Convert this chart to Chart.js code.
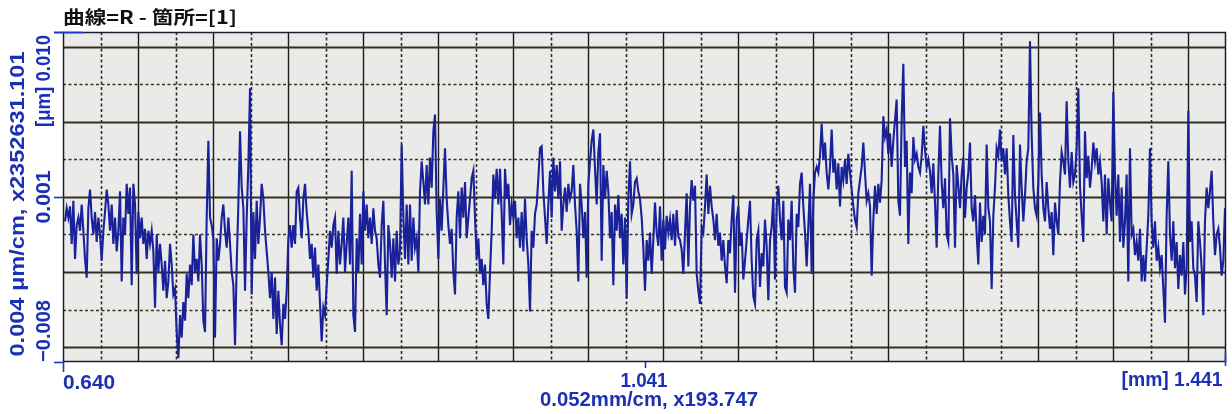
<!DOCTYPE html>
<html><head><meta charset="utf-8">
<script src="https://cdn.jsdelivr.net/npm/chart.js@4.4.1/dist/chart.umd.min.js"></script>
<style>html,body{margin:0;padding:0;background:#fff;overflow:hidden}canvas{display:block}</style>
</head><body>
<canvas id="c" width="1232" height="414"></canvas>
<script>
// ---- texts and axis values ----
const titleText = '曲線=R - 箇所=[1]';
const xMin = 0.640, xMid = 1.041, xMax = 1.441;
const xTickLabels = ['0.640', '1.041', '[mm] 1.441'];
const xScaleText = '0.052mm/cm, x193.747';
const yMin = -0.0078, yMid = 0.001, yMax = 0.0098;
const yTickLabels = ['\u22120.008', '0.001', '[\u03bcm] 0.010'];
const yScaleText = '0.004 \u03bcm/cm, x2352631.101';
const gridStepY = 0.002;           // μm per half-cm grid division
const gridDivX = 31;               // half-cm divisions across the trace
// sample positions (mm) of the first and last reading
const sampleStart = 0.6414, sampleEnd = 1.4403;

// ---- roughness profile R (μm) ----
const profile1 = [
-0.0003,0.0004,-0.0001,0.0005,-0.0015,0.0008,-0.0023,-0.0005,-0.0001,-0.0008,
0.0006,-0.0008,-0.0023,-0.0033,0.0004,0.0014,-0.0001,-0.0010,0.0002,-0.0014,
-0.0001,-0.0010,-0.0024,-0.0008,0.0002,0.0014,0.0006,-0.0008,0.0006,-0.0015,
-0.0001,-0.0019,-0.0008,0.0013,-0.0035,-0.0001,-0.0010,0.0017,0.0001,0.0015,
-0.0037,0.0017,0.0006,-0.0031,0.0002,-0.0012,-0.0001,-0.0015,-0.0007,-0.0023,
-0.0008,-0.0015,-0.0008,-0.0019,-0.0049,-0.0010,-0.0030,-0.0015,-0.0026,-0.0040,
-0.0024,-0.0044,-0.0035,-0.0015,-0.0026,-0.0042,-0.0039,-0.0062,-0.0076,-0.0053,
-0.0065,-0.0046,-0.0056,-0.0031,-0.0044,-0.0026,-0.0037,-0.0010,-0.0030,-0.0023,
-0.0035,-0.0010,-0.0026,-0.0056,-0.0062,-0.0001,0.0040,-0.0001,-0.0005,-0.0012,
-0.0065,-0.0012,-0.0024,-0.0015,-0.0001,0.0006,-0.0008,-0.0017,-0.0001,-0.0015,
-0.0030,-0.0037,-0.0069,-0.0026,0.0006,0.0045,0.0015,0.0004,-0.0040,-0.0001,
0.0027,0.0068,-0.0042,0.0002,-0.0023,0.0008,-0.0015,-0.0001,0.0017,0.0009,
-0.0008,-0.0019,-0.0030,-0.0044,-0.0030,-0.0055,-0.0033,-0.0063,-0.0040,-0.0058,
-0.0069,-0.0047,-0.0055,-0.0040,-0.0012,-0.0005,-0.0017,-0.0005,-0.0015,0.0013,
0.0015,-0.0001,-0.0012,0.0009,0.0017,0.0002,-0.0008,-0.0023,-0.0015,-0.0033,
-0.0017,-0.0040,-0.0026,-0.0047,-0.0067,-0.0049,-0.0053,-0.0037,-0.0023,-0.0008,
-0.0017,-0.0005,-0.0001,-0.0031,-0.0008,-0.0026,-0.0015,-0.0001,-0.0030,-0.0015,
-0.0001,-0.0026,0.0024,-0.0053
];
const profile2 = [
-0.0062,-0.0012,-0.0030,0.0001,-0.0026,0.0013,-0.0008,0.0006,-0.0012,-0.0001,
-0.0015,0.0004,-0.0008,-0.0012,-0.0026,-0.0033,-0.0005,0.0008,-0.0026,-0.0053,
-0.0005,-0.0015,-0.0033,-0.0012,-0.0035,-0.0008,-0.0026,-0.0019,0.0038,-0.0001,
-0.0023,0.0006,-0.0026,0.0006,-0.0024,-0.0001,-0.0017,-0.0012,-0.0030,0.0013,
0.0029,0.0018,0.0006,0.0027,0.0006,0.0031,0.0015,0.0045,0.0054,0.0002,
-0.0023,0.0009,-0.0008,0.0015,0.0036,0.0009,-0.0005,-0.0015,-0.0007,-0.0030,
-0.0042,-0.0001,0.0013,-0.0012,0.0015,-0.0001,0.0018,-0.0012,-0.0001,0.0009,
0.0020,0.0024,-0.0001,-0.0023,-0.0012,-0.0031,-0.0023,-0.0037,-0.0026,-0.0047,
-0.0055,-0.0030,-0.0008,0.0022,0.0009,0.0025,0.0006,0.0025,0.0001,-0.0026,
0.0025,0.0009,0.0017,-0.0005,0.0006,-0.0001,0.0008,-0.0012,-0.0001,-0.0017,
0.0002,-0.0019,0.0009,-0.0012,-0.0026,-0.0051,-0.0008,-0.0017,0.0001,0.0006,
0.0020,0.0036,0.0037,0.0013,-0.0001,-0.0015,0.0006,0.0024,-0.0001,0.0031,
0.0013,0.0027,0.0009,0.0029,-0.0008,0.0006,0.0015,0.0002,0.0017,0.0009,
0.0013,0.0027,0.0006,-0.0008,-0.0035,0.0017,0.0006,-0.0012,0.0002,-0.0033,
0.0017,0.0029,0.0040,0.0046,0.0025,0.0006,0.0034,0.0044,-0.0024,0.0027,
0.0009,0.0024,0.0013,-0.0012,0.0002,-0.0037,0.0006,-0.0008,0.0011,-0.0012,
0.0001,-0.0026,-0.0001,-0.0044,0.0009,0.0029,0.0001,0.0006,0.0018,0.0020,
0.0013,0.0009,-0.0001,-0.0017
];
const profile3 = [
-0.0040,-0.0013,-0.0024,-0.0009,-0.0031,-0.0013,0.0007,-0.0009,-0.0016,0.0005,
-0.0024,-0.0002,-0.0018,0.0000,-0.0009,-0.0002,-0.0013,0.0001,-0.0016,0.0003,
-0.0011,-0.0013,-0.0018,-0.0031,-0.0009,0.0012,-0.0027,0.0005,0.0019,0.0008,
0.0016,-0.0031,-0.0040,-0.0047,-0.0006,-0.0009,0.0005,0.0022,0.0001,0.0016,
0.0005,-0.0002,-0.0013,0.0001,-0.0016,-0.0009,-0.0024,-0.0013,-0.0027,-0.0036,
-0.0013,-0.0020,-0.0002,0.0011,-0.0041,-0.0002,0.0005,-0.0016,-0.0009,-0.0034,
-0.0024,-0.0013,-0.0002,0.0008,-0.0024,-0.0043,-0.0047,-0.0013,-0.0008,-0.0038,
-0.0020,-0.0027,-0.0002,-0.0016,-0.0045,-0.0013,-0.0006,0.0010,-0.0034,0.0005,
0.0016,-0.0002,-0.0013,0.0008,-0.0038,-0.0041,-0.0002,-0.0013,0.0008,-0.0027,
-0.0041,0.0001,-0.0006,0.0017,0.0023,0.0005,-0.0009,-0.0027,-0.0006,0.0017,
-0.0031,0.0008,0.0023,0.0026,0.0023,0.0032,0.0049,0.0030,0.0039,0.0023,
0.0014,0.0026,0.0046,0.0023,0.0030,0.0014,0.0028,0.0005,0.0026,0.0019,
0.0030,0.0017,0.0033,0.0023,0.0014,0.0005,-0.0002,-0.0006,0.0012,0.0019,
0.0026,0.0039,0.0023,0.0008,0.0012,0.0005,-0.0032,-0.0002,0.0016,0.0001,
0.0017,0.0007,0.0019,0.0053,0.0042,0.0046,0.0033,0.0044,0.0026,0.0040,
0.0051,0.0062,0.0008,0.0000,0.0051,0.0081,0.0026,0.0040,-0.0015,0.0023,
0.0012,0.0042,0.0030,0.0033,0.0026,0.0023,0.0032,0.0048,0.0035,0.0026,
0.0030,0.0024,0.0012,0.0028
];
const profile4 = [
0.0007,-0.0017,0.0022,0.0048,0.0018,0.0004,0.0020,-0.0010,-0.0014,0.0052,
0.0032,0.0022,-0.0017,0.0027,0.0016,0.0004,0.0022,0.0031,-0.0001,0.0015,
0.0023,0.0039,0.0004,-0.0003,0.0011,-0.0010,-0.0026,0.0007,-0.0014,0.0000,
-0.0010,0.0038,0.0004,-0.0003,-0.0039,0.0000,0.0015,0.0036,0.0032,0.0046,
0.0029,0.0036,0.0022,0.0036,0.0011,-0.0003,-0.0014,0.0043,0.0011,-0.0003,
-0.0017,0.0038,0.0015,-0.0003,0.0011,0.0029,0.0036,0.0093,0.0043,0.0015,
0.0004,0.0000,0.0018,0.0055,0.0022,0.0004,-0.0003,0.0018,0.0004,-0.0007,
0.0002,-0.0021,0.0007,-0.0003,-0.0010,0.0018,0.0034,0.0029,0.0022,0.0061,
0.0029,0.0015,0.0034,0.0018,0.0022,0.0036,0.0068,0.0016,0.0000,-0.0014,
0.0045,0.0020,0.0032,0.0015,0.0025,0.0039,0.0029,0.0036,0.0022,0.0029,
0.0018,-0.0003,0.0022,-0.0010,0.0020,0.0007,-0.0003,0.0066,0.0022,0.0000,
0.0022,-0.0014,0.0015,-0.0017,-0.0003,0.0022,-0.0035,0.0036,-0.0010,-0.0007,
-0.0021,-0.0014,-0.0024,-0.0007,-0.0035,-0.0021,-0.0035,-0.0017,0.0000,0.0036,
-0.0003,-0.0017,-0.0003,-0.0024,-0.0017,-0.0028,-0.0021,-0.0039,-0.0057,0.0000,
0.0029,-0.0010,-0.0024,-0.0003,-0.0028,-0.0014,-0.0039,-0.0021,-0.0032,-0.0014,
-0.0042,-0.0028,0.0056,-0.0014,-0.0003,-0.0028,-0.0032,-0.0046,-0.0003,-0.0014,
-0.0028,-0.0053,-0.0003,0.0015,0.0004,0.0013,0.0024,-0.0003,-0.0021,-0.0010,
-0.0007,-0.0017,-0.0032,-0.0024,0.0004
];

const profile = profile1.concat(profile2, profile3, profile4);
const nPts = profile.length;
const points = profile.map((v, i) => ({ x: sampleStart + (sampleEnd - sampleStart) * i / (nPts - 1), y: v }));

// ---- style ----
const BLUE_TEXT = '#1c30b6';
const BLUE_TICK = '#2036c4';
const TRACE = '#1a2299';
const BLUE_FONT = 'bold 20px "Liberation Sans", Arial, sans-serif';

function fitText(ctx, text, x, y, width, opt) {
  ctx.save();
  ctx.translate(x, y);
  if (opt.rotate) ctx.rotate(-Math.PI / 2);
  ctx.font = opt.font;
  ctx.fillStyle = opt.color;
  ctx.textAlign = opt.align || 'left';
  ctx.textBaseline = opt.baseline || 'alphabetic';
  const w = ctx.measureText(text).width;
  ctx.scale(width / w, 1);
  ctx.fillText(text, 0, 0);
  ctx.restore();
}

const paperPlugin = {
  id: 'paper',
  beforeDatasetsDraw(chart) {
    const { ctx, chartArea: a, scales: { x, y } } = chart;
    ctx.save();
    ctx.fillStyle = '#eaeae9';
    ctx.fillRect(a.left, a.top, a.right - a.left, a.bottom - a.top);
    // vertical grid
    const stepX = (xMax - xMin) / gridDivX;
    for (let k = 1; k < gridDivX; k++) {
      const px = Math.round(x.getPixelForValue(xMin + k * stepX)) + 0.5;
      ctx.beginPath();
      if (k % 2 === 0) { ctx.setLineDash([]); ctx.strokeStyle = '#1c1c1c'; ctx.lineWidth = 1.4; }
      else { ctx.setLineDash([3, 2.5]); ctx.strokeStyle = '#2a2a2a'; ctx.lineWidth = 1.6; }
      ctx.moveTo(px, a.top); ctx.lineTo(px, a.bottom); ctx.stroke();
    }
    // horizontal grid
    for (let k = -4; k <= 4; k++) {
      const py = Math.round(y.getPixelForValue(yMid + k * gridStepY)) + 0.5;
      ctx.beginPath();
      if (k % 2 === 0) { ctx.setLineDash([]); ctx.strokeStyle = '#352f1f'; ctx.lineWidth = 1.8; }
      else { ctx.setLineDash([3, 2.5]); ctx.strokeStyle = '#3a3322'; ctx.lineWidth = 1.7; }
      ctx.moveTo(a.left, py); ctx.lineTo(a.right, py); ctx.stroke();
    }
    ctx.restore();
  },
  afterDatasetsDraw(chart) {
    const { ctx, chartArea: a, scales: { x, y } } = chart;
    ctx.save();
    ctx.setLineDash([]);
    // frame
    ctx.strokeStyle = '#1d1d2c';
    ctx.lineWidth = 1.5;
    ctx.strokeRect(a.left + 0.5, a.top + 0.5, a.right - a.left - 1, a.bottom - a.top - 1);
    // blue axis ticks
    ctx.strokeStyle = BLUE_TICK;
    ctx.lineWidth = 1.6;
    const yTicks = [yMax, yMid, yMin];
    yTicks.forEach(v => {
      const py = Math.round(y.getPixelForValue(v)) + 0.5;
      ctx.beginPath(); ctx.moveTo(a.left - 9, py); ctx.lineTo(a.left + 1, py); ctx.stroke();
    });
    const xl = Math.round(x.getPixelForValue(xMin)) + 0.5;
    const xm = Math.round(x.getPixelForValue(xMid)) + 0.5;
    const xr = Math.round(x.getPixelForValue(xMax)) - 0.5;
    ctx.beginPath(); ctx.moveTo(xl, a.bottom); ctx.lineTo(xl, a.bottom + 10); ctx.stroke();
    ctx.beginPath(); ctx.moveTo(xm, a.bottom); ctx.lineTo(xm, a.bottom + 6); ctx.stroke();
    ctx.beginPath(); ctx.moveTo(xr, a.bottom - 9); ctx.lineTo(xr, a.bottom + 4); ctx.stroke();
    ctx.beginPath(); ctx.moveTo(a.left - 9, a.top + 0.5); ctx.lineTo(a.left + 20, a.top + 0.5); ctx.stroke();
    ctx.restore();

    // title
    fitText(ctx, titleText, a.left, 24, 174, { font: 'bold 18px "Noto Sans CJK JP", sans-serif', color: '#111111' });
    // x labels
    const bOpt = { font: BLUE_FONT, color: BLUE_TEXT };
    fitText(ctx, xTickLabels[0], xl - 0.5, 389, 52, Object.assign({ align: 'left' }, bOpt));
    fitText(ctx, xTickLabels[1], xm - 1.5, 387, 47, Object.assign({ align: 'center' }, bOpt));
    fitText(ctx, xTickLabels[2], xr - 3, 386, 101, Object.assign({ align: 'right' }, bOpt));
    fitText(ctx, xScaleText, 649, 406, 218, Object.assign({ align: 'center' }, bOpt));
    // y labels (rotated)
    const py0 = y.getPixelForValue(yMin), py1 = y.getPixelForValue(yMid), py2 = y.getPixelForValue(yMax);
    fitText(ctx, yTickLabels[0], 44, py0, 62, Object.assign({ align: 'left', baseline: 'middle', rotate: true }, bOpt));
    fitText(ctx, yTickLabels[1], 44, py1, 53, Object.assign({ align: 'center', baseline: 'middle', rotate: true }, bOpt));
    fitText(ctx, yTickLabels[2], 44, py2 + 3, 92, Object.assign({ align: 'right', baseline: 'middle', rotate: true }, bOpt));
    fitText(ctx, yScaleText, 18.5, 204, 305, Object.assign({ align: 'center', baseline: 'middle', rotate: true }, bOpt));
  }
};

new Chart(document.getElementById('c'), {
  type: 'line',
  data: {
    datasets: [{
      label: 'R',
      data: points,
      borderColor: TRACE,
      borderWidth: 2.1,
      pointRadius: 0,
      fill: false,
      tension: 0
    }]
  },
  options: {
    responsive: false,
    animation: false,
    devicePixelRatio: 1,
    layout: { padding: { left: 63, right: 6, top: 32, bottom: 52 } },
    plugins: { legend: { display: false }, tooltip: { enabled: false }, title: { display: false } },
    scales: {
      x: { type: 'linear', min: xMin, max: xMax, display: false },
      y: { type: 'linear', min: yMin, max: yMax, display: false }
    }
  },
  plugins: [paperPlugin]
});
</script>
</body></html>
